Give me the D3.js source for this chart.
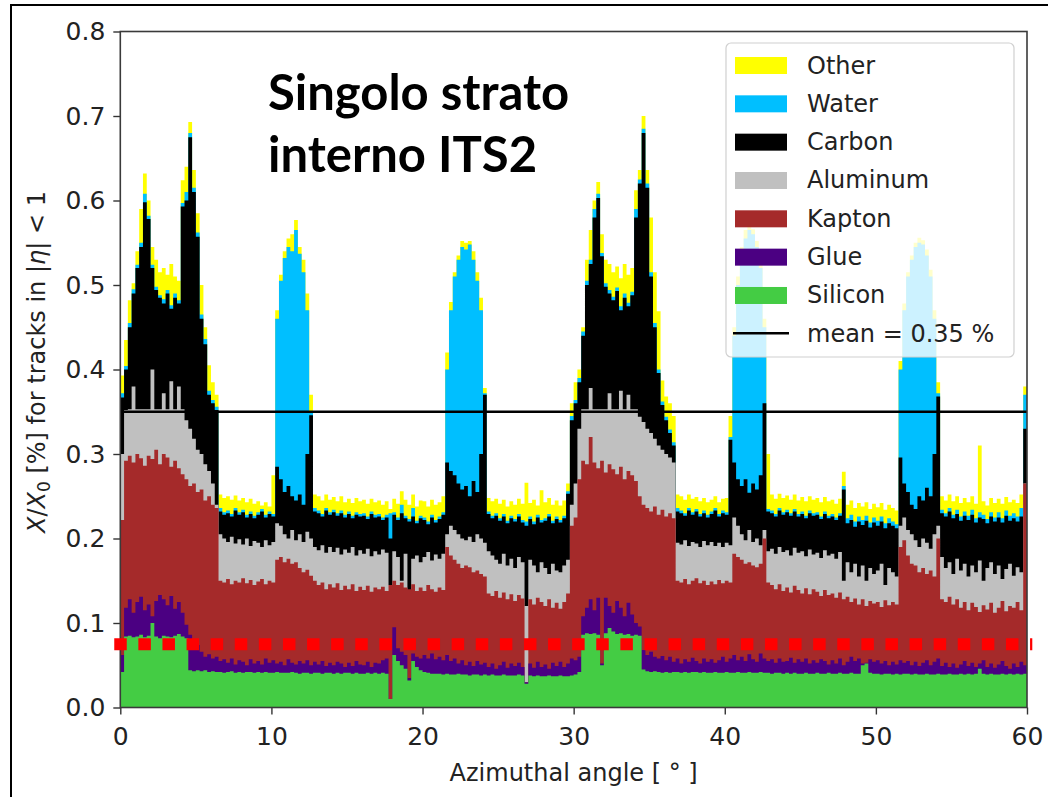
<!DOCTYPE html>
<html>
<head>
<meta charset="utf-8">
<script src="https://cdn.jsdelivr.net/npm/d3@7"></script>
<style>
body { margin: 0; background: #fff; }
</style>
</head>
<body>
<div id="my_dataviz"></div>
<script>
// bins of 0.25 degrees from 0 to 60, stacked upper edge of every material (X/X0 in %)
var binWidth = 0.25;

var siliconTop = [
    0.042,0.084,0.085,0.083, 0.084,0.086,0.083,0.085,
    0.100,0.084,0.082,0.085, 0.084,0.083,0.085,0.087,
    0.084,0.082,0.044,0.043, 0.044,0.043,0.044,0.042,
    0.043,0.042,0.042,0.041, 0.042,0.043,0.041,0.042,
    0.041,0.042,0.042,0.041, 0.042,0.041,0.042,0.041,
    0.041,0.042,0.041,0.041, 0.041,0.042,0.041,0.040,
    0.041,0.041,0.040,0.041, 0.041,0.040,0.041,0.041,
    0.040,0.041,0.040,0.041, 0.041,0.040,0.041,0.040,
    0.040,0.041,0.040,0.041, 0.040,0.041,0.040,0.010,
    0.062,0.055,0.050,0.046, 0.032,0.055,0.048,0.044,
    0.042,0.041,0.040,0.040, 0.040,0.039,0.040,0.039,
    0.039,0.040,0.039,0.039, 0.038,0.039,0.039,0.038,
    0.039,0.038,0.039,0.038, 0.038,0.039,0.038,0.038,
    0.038,0.039,0.038,0.028, 0.038,0.037,0.038,0.037,
    0.037,0.038,0.037,0.037, 0.038,0.037,0.037,0.038,
    0.039,0.042,0.086,0.088, 0.087,0.088,0.086,0.050,
    0.088,0.094,0.090,0.087, 0.088,0.086,0.087,0.085,
    0.086,0.085,0.045,0.043, 0.042,0.043,0.042,0.041,
    0.042,0.041,0.042,0.042, 0.041,0.042,0.041,0.042,
    0.042,0.041,0.042,0.041, 0.041,0.042,0.041,0.041,
    0.042,0.041,0.041,0.042, 0.041,0.041,0.042,0.041,
    0.041,0.042,0.041,0.041, 0.040,0.041,0.041,0.040,
    0.041,0.040,0.041,0.040, 0.040,0.041,0.040,0.040,
    0.041,0.040,0.040,0.041, 0.040,0.040,0.041,0.040,
    0.040,0.041,0.040,0.040, 0.050,0.052,0.041,0.040,
    0.040,0.039,0.040,0.040, 0.039,0.040,0.039,0.040,
    0.040,0.039,0.040,0.039, 0.039,0.040,0.039,0.039,
    0.040,0.039,0.039,0.040, 0.039,0.039,0.040,0.039,
    0.040,0.039,0.040,0.046, 0.040,0.039,0.040,0.039,
    0.039,0.040,0.039,0.040, 0.039,0.040,0.039,0.040
];

var glueTop = [
    0.062,0.118,0.128,0.112, 0.125,0.131,0.115,0.122,
    0.108,0.126,0.133,0.128, 0.121,0.132,0.117,0.125,
    0.112,0.098,0.086,0.080, 0.074,0.066,0.060,0.063,
    0.058,0.060,0.055,0.057, 0.053,0.058,0.051,0.056,
    0.054,0.050,0.057,0.052, 0.055,0.051,0.058,0.053,
    0.056,0.052,0.054,0.050, 0.057,0.053,0.051,0.055,
    0.052,0.056,0.050,0.054, 0.051,0.055,0.049,0.053,
    0.050,0.054,0.052,0.048, 0.053,0.049,0.055,0.051,
    0.050,0.054,0.048,0.053, 0.052,0.056,0.058,0.010,
    0.095,0.070,0.066,0.062, 0.035,0.064,0.060,0.058,
    0.062,0.058,0.064,0.057, 0.060,0.056,0.062,0.055,
    0.058,0.052,0.056,0.050, 0.054,0.049,0.055,0.051,
    0.053,0.048,0.052,0.046, 0.050,0.054,0.047,0.052,
    0.049,0.053,0.048,0.030, 0.052,0.047,0.054,0.048,
    0.051,0.046,0.053,0.049, 0.054,0.048,0.052,0.058,
    0.056,0.060,0.108,0.118, 0.128,0.115,0.130,0.052,
    0.130,0.120,0.112,0.126, 0.118,0.108,0.124,0.110,
    0.100,0.096,0.068,0.062, 0.066,0.060,0.058,0.061,
    0.056,0.060,0.054,0.058, 0.052,0.057,0.054,0.059,
    0.055,0.052,0.058,0.054, 0.057,0.053,0.056,0.060,
    0.054,0.058,0.062,0.056, 0.060,0.055,0.063,0.057,
    0.054,0.064,0.058,0.055, 0.057,0.053,0.058,0.054,
    0.055,0.059,0.053,0.057, 0.054,0.058,0.052,0.056,
    0.053,0.057,0.055,0.051, 0.056,0.052,0.058,0.050,
    0.054,0.060,0.055,0.058, 0.052,0.053,0.057,0.054,
    0.056,0.052,0.055,0.050, 0.054,0.051,0.056,0.053,
    0.055,0.050,0.054,0.049, 0.053,0.056,0.050,0.054,
    0.058,0.049,0.053,0.048, 0.052,0.047,0.051,0.055,
    0.049,0.053,0.048,0.052, 0.056,0.048,0.052,0.047,
    0.051,0.055,0.049,0.046, 0.052,0.048,0.054,0.050
];

var kaptonTop = [
    0.222,0.292,0.298,0.290, 0.300,0.295,0.286,0.298,
    0.294,0.305,0.288,0.300, 0.296,0.285,0.292,0.283,
    0.276,0.270,0.262,0.265, 0.255,0.258,0.245,0.250,
    0.240,0.236,0.150,0.148, 0.152,0.146,0.150,0.148,
    0.153,0.147,0.151,0.145, 0.149,0.152,0.146,0.150,
    0.148,0.175,0.178,0.172, 0.176,0.170,0.172,0.165,
    0.160,0.163,0.156,0.150, 0.145,0.148,0.140,0.146,
    0.142,0.147,0.139,0.144, 0.140,0.146,0.138,0.143,
    0.139,0.144,0.137,0.142, 0.140,0.143,0.138,0.145,
    0.150,0.145,0.148,0.142, 0.140,0.146,0.138,0.142,
    0.138,0.145,0.140,0.137, 0.142,0.139,0.190,0.180,
    0.175,0.170,0.165,0.168, 0.166,0.160,0.162,0.158,
    0.155,0.135,0.132,0.138, 0.130,0.136,0.128,0.134,
    0.126,0.133,0.129,0.030, 0.128,0.122,0.130,0.125,
    0.120,0.128,0.118,0.124, 0.117,0.125,0.135,0.215,
    0.225,0.270,0.292,0.288, 0.320,0.290,0.283,0.292,
    0.278,0.288,0.282,0.276, 0.285,0.270,0.280,0.275,
    0.268,0.250,0.240,0.236, 0.232,0.238,0.228,0.234,
    0.226,0.230,0.224,0.150, 0.148,0.152,0.146,0.150,
    0.153,0.147,0.150,0.145, 0.149,0.146,0.151,0.147,
    0.150,0.148,0.182,0.178, 0.175,0.170,0.172,0.168,
    0.166,0.170,0.200,0.148, 0.145,0.140,0.146,0.138,
    0.142,0.136,0.144,0.139, 0.135,0.141,0.134,0.140,
    0.137,0.132,0.139,0.133, 0.135,0.130,0.136,0.128,
    0.131,0.125,0.129,0.122, 0.128,0.120,0.126,0.123,
    0.125,0.119,0.127,0.121, 0.125,0.122,0.190,0.198,
    0.180,0.170,0.168,0.160, 0.165,0.158,0.162,0.155,
    0.200,0.128,0.125,0.131, 0.122,0.128,0.118,0.125,
    0.115,0.124,0.119,0.113, 0.121,0.116,0.124,0.112,
    0.118,0.126,0.114,0.120, 0.118,0.125,0.115,0.265
];

var aluminumTop = [
    0.300,0.352,0.353,0.380, 0.353,0.353,0.353,0.353,
    0.400,0.353,0.353,0.372, 0.353,0.386,0.353,0.380,
    0.353,0.340,0.330,0.318, 0.305,0.300,0.288,0.280,
    0.265,0.240,0.205,0.200, 0.196,0.202,0.194,0.199,
    0.193,0.200,0.191,0.197, 0.195,0.190,0.198,0.192,
    0.196,0.218,0.215,0.205, 0.200,0.210,0.198,0.205,
    0.196,0.208,0.200,0.190, 0.186,0.192,0.183,0.190,
    0.184,0.189,0.181,0.187, 0.183,0.190,0.180,0.186,
    0.182,0.188,0.179,0.185, 0.181,0.187,0.183,0.145,
    0.185,0.178,0.150,0.182, 0.132,0.176,0.180,0.172,
    0.178,0.184,0.174,0.181, 0.176,0.182,0.205,0.215,
    0.210,0.205,0.200,0.198, 0.202,0.196,0.205,0.200,
    0.195,0.185,0.180,0.175, 0.170,0.182,0.168,0.176,
    0.165,0.178,0.172,0.120, 0.175,0.168,0.160,0.172,
    0.165,0.158,0.170,0.162, 0.160,0.168,0.175,0.240,
    0.265,0.330,0.353,0.353, 0.378,0.353,0.353,0.353,
    0.353,0.372,0.353,0.353, 0.375,0.353,0.370,0.353,
    0.353,0.344,0.338,0.330, 0.325,0.318,0.310,0.305,
    0.300,0.296,0.290,0.195, 0.193,0.198,0.191,0.196,
    0.194,0.190,0.197,0.192, 0.196,0.191,0.195,0.190,
    0.195,0.192,0.225,0.215, 0.205,0.198,0.210,0.196,
    0.200,0.192,0.210,0.185, 0.188,0.182,0.190,0.184,
    0.186,0.180,0.189,0.183, 0.185,0.179,0.187,0.181,
    0.183,0.177,0.186,0.180, 0.182,0.176,0.184,0.150,
    0.172,0.160,0.170,0.155, 0.168,0.150,0.165,0.158,
    0.162,0.170,0.145,0.165, 0.160,0.155,0.215,0.225,
    0.210,0.205,0.198,0.190, 0.200,0.195,0.188,0.205,
    0.215,0.178,0.165,0.172, 0.158,0.176,0.162,0.170,
    0.155,0.168,0.160,0.174, 0.150,0.165,0.172,0.158,
    0.168,0.152,0.164,0.170, 0.156,0.166,0.160,0.265
];

var carbonTop = [
    0.367,0.400,0.450,0.490, 0.520,0.545,0.598,0.578,
    0.520,0.494,0.485,0.478, 0.490,0.472,0.485,0.478,
    0.593,0.600,0.675,0.610, 0.557,0.460,0.430,0.370,
    0.360,0.352,0.232,0.228, 0.230,0.226,0.233,0.228,
    0.231,0.225,0.229,0.224, 0.228,0.232,0.225,0.229,
    0.226,0.285,0.270,0.255, 0.262,0.250,0.245,0.252,
    0.240,0.300,0.346,0.232, 0.230,0.226,0.233,0.228,
    0.231,0.227,0.230,0.225, 0.229,0.224,0.228,0.226,
    0.227,0.223,0.229,0.225, 0.226,0.222,0.225,0.200,
    0.228,0.222,0.230,0.224, 0.220,0.226,0.218,0.224,
    0.222,0.217,0.225,0.219, 0.223,0.228,0.290,0.280,
    0.275,0.265,0.258,0.262, 0.250,0.268,0.255,0.300,
    0.370,0.229,0.224,0.227, 0.221,0.226,0.218,0.224,
    0.220,0.226,0.219,0.215, 0.223,0.217,0.225,0.219,
    0.221,0.226,0.218,0.223, 0.219,0.224,0.253,0.340,
    0.360,0.385,0.440,0.500, 0.525,0.580,0.603,0.534,
    0.498,0.490,0.482,0.493, 0.470,0.485,0.475,0.488,
    0.580,0.620,0.680,0.615, 0.510,0.450,0.396,0.358,
    0.340,0.325,0.310,0.232, 0.230,0.227,0.233,0.228,
    0.232,0.226,0.230,0.225, 0.229,0.233,0.226,0.230,
    0.228,0.317,0.290,0.270, 0.262,0.270,0.254,0.265,
    0.258,0.275,0.360,0.232, 0.230,0.226,0.233,0.228,
    0.231,0.227,0.232,0.226, 0.229,0.224,0.230,0.227,
    0.228,0.223,0.229,0.224, 0.226,0.222,0.227,0.258,
    0.218,0.222,0.214,0.220, 0.216,0.221,0.213,0.219,
    0.215,0.220,0.212,0.218, 0.215,0.212,0.296,0.265,
    0.255,0.240,0.235,0.250, 0.245,0.260,0.250,0.300,
    0.368,0.230,0.226,0.232, 0.224,0.229,0.221,0.227,
    0.222,0.228,0.219,0.225, 0.223,0.218,0.226,0.220,
    0.225,0.219,0.227,0.221, 0.224,0.220,0.226,0.330
];

var waterTop = [
    0.372,0.404,0.455,0.495, 0.524,0.550,0.608,0.582,
    0.524,0.498,0.488,0.483, 0.494,0.476,0.490,0.482,
    0.597,0.610,0.680,0.615, 0.562,0.465,0.436,0.375,
    0.364,0.356,0.236,0.231, 0.233,0.229,0.236,0.231,
    0.234,0.228,0.232,0.227, 0.231,0.235,0.228,0.232,
    0.229,0.460,0.505,0.532, 0.545,0.540,0.565,0.537,
    0.515,0.470,0.350,0.236, 0.233,0.229,0.236,0.231,
    0.234,0.230,0.233,0.228, 0.232,0.227,0.231,0.229,
    0.230,0.226,0.232,0.228, 0.229,0.225,0.228,0.230,
    0.231,0.225,0.240,0.227, 0.223,0.236,0.221,0.227,
    0.225,0.220,0.228,0.222, 0.226,0.231,0.400,0.470,
    0.510,0.530,0.545,0.542, 0.548,0.530,0.505,0.470,
    0.372,0.232,0.227,0.230, 0.224,0.229,0.221,0.227,
    0.223,0.229,0.222,0.220, 0.226,0.220,0.228,0.222,
    0.224,0.229,0.221,0.226, 0.222,0.227,0.256,0.345,
    0.364,0.390,0.445,0.505, 0.530,0.590,0.608,0.538,
    0.502,0.494,0.486,0.497, 0.475,0.490,0.479,0.492,
    0.590,0.625,0.685,0.620, 0.515,0.455,0.400,0.362,
    0.344,0.329,0.314,0.236, 0.233,0.230,0.236,0.231,
    0.235,0.229,0.233,0.228, 0.232,0.236,0.229,0.233,
    0.231,0.320,0.440,0.500, 0.535,0.555,0.565,0.560,
    0.545,0.520,0.450,0.235, 0.233,0.229,0.236,0.231,
    0.234,0.230,0.235,0.229, 0.232,0.227,0.233,0.230,
    0.231,0.226,0.232,0.227, 0.229,0.225,0.230,0.262,
    0.224,0.228,0.220,0.226, 0.222,0.227,0.219,0.225,
    0.221,0.226,0.218,0.224, 0.220,0.217,0.400,0.470,
    0.510,0.530,0.545,0.550, 0.548,0.535,0.510,0.460,
    0.372,0.234,0.230,0.236, 0.228,0.234,0.226,0.232,
    0.227,0.234,0.224,0.231, 0.228,0.223,0.231,0.225,
    0.231,0.224,0.233,0.227, 0.230,0.226,0.236,0.370
];

var otherTop = [
    0.393,0.435,0.482,0.502, 0.540,0.590,0.632,0.600,
    0.545,0.530,0.515,0.520, 0.512,0.525,0.510,0.505,
    0.624,0.640,0.693,0.636, 0.585,0.500,0.450,0.405,
    0.385,0.370,0.252,0.248, 0.250,0.246,0.251,0.245,
    0.248,0.243,0.247,0.241, 0.244,0.239,0.243,0.238,
    0.275,0.470,0.512,0.540, 0.555,0.560,0.577,0.545,
    0.530,0.490,0.370,0.252, 0.250,0.245,0.252,0.246,
    0.249,0.244,0.250,0.243, 0.247,0.242,0.248,0.244,
    0.246,0.241,0.247,0.243, 0.245,0.240,0.244,0.235,
    0.247,0.241,0.256,0.246, 0.240,0.252,0.238,0.245,
    0.244,0.238,0.246,0.240, 0.243,0.250,0.420,0.480,
    0.515,0.535,0.552,0.550, 0.552,0.540,0.515,0.485,
    0.378,0.248,0.244,0.247, 0.241,0.246,0.238,0.244,
    0.240,0.247,0.241,0.266, 0.242,0.246,0.239,0.257,
    0.243,0.248,0.240,0.245, 0.239,0.245,0.265,0.360,
    0.385,0.400,0.450,0.530, 0.565,0.600,0.622,0.560,
    0.530,0.525,0.515,0.522, 0.508,0.525,0.512,0.520,
    0.612,0.636,0.700,0.636, 0.580,0.515,0.469,0.387,
    0.368,0.360,0.345,0.252, 0.250,0.246,0.252,0.247,
    0.249,0.244,0.248,0.243, 0.246,0.250,0.243,0.247,
    0.248,0.345,0.450,0.510, 0.545,0.565,0.572,0.566,
    0.552,0.528,0.460,0.300, 0.252,0.247,0.253,0.248,
    0.251,0.246,0.252,0.245, 0.249,0.244,0.250,0.246,
    0.248,0.243,0.249,0.244, 0.246,0.241,0.247,0.279,
    0.240,0.245,0.236,0.242, 0.238,0.243,0.235,0.241,
    0.237,0.242,0.234,0.240, 0.236,0.233,0.410,0.478,
    0.515,0.535,0.550,0.556, 0.553,0.542,0.518,0.470,
    0.385,0.250,0.245,0.252, 0.244,0.250,0.242,0.248,
    0.243,0.250,0.241,0.310, 0.244,0.239,0.248,0.242,
    0.247,0.241,0.249,0.243, 0.246,0.242,0.252,0.380
];

var materials = ["Other", "Water", "Carbon", "Aluminum", "Kapton", "Glue", "Silicon"];
var materialColors = ["#ffff00", "#00bfff", "#000000", "#c0c0c0", "#a52a2a", "#4b0082", "#44cc44"];
var materialTops = [otherTop, waterTop, carbonTop, aluminumTop, kaptonTop, glueTop, siliconTop];

var meanValue = 0.35;
var meanLabel = "mean = 0.35 %";
var redLevel = 0.075;   // dotted red marker drawn on the slide
var xTicks = [0, 10, 20, 30, 40, 50, 60];
var yTicks = [0, 0.1, 0.2, 0.3, 0.4, 0.5, 0.6, 0.7, 0.8];
var noteLines = ["Singolo strato", "interno ITS2"];

// set the dimensions and margins of the graph
var margin = {
        top: 31.5,
        right: 21,
        bottom: 89.5,
        left: 120.3
    },
    width = 1048 - margin.left - margin.right,
    height = 797 - margin.top - margin.bottom;

var root = d3.select("#my_dataviz")
    .append("svg")
    .attr("width", 1048)
    .attr("height", 797)
    .style("display", "block");

// slide frame around the picture
root.append("path")
    .attr("d", "M11,797V5H1048")
    .attr("fill", "none")
    .attr("stroke", "#000")
    .attr("stroke-width", 2);

var svg = root.append("g")
    .attr("transform", "translate(" + margin.left + "," + margin.top + ")");

var x = d3.scaleLinear()
    .domain([0, 60])
    .range([0, width]);

var y = d3.scaleLinear()
    .domain([0, 0.8])
    .range([height, 0]);

// stacked step histograms, drawn from the top material down
var area = d3.area()
    .curve(d3.curveStepAfter)
    .x(function(d) { return x(d[0]); })
    .y0(y(0))
    .y1(function(d) { return y(d[1]); });

materialTops.forEach(function(tops, k) {
    var pts = d3.range(tops.length + 1).map(function(i) {
        return [i * binWidth, tops[Math.min(i, tops.length - 1)]];
    });
    svg.append("path")
        .datum(pts)
        .attr("fill", materialColors[k])
        .attr("d", area);
});

// mean line
svg.append("line")
    .attr("x1", x(0))
    .attr("x2", x(60))
    .attr("y1", y(meanValue))
    .attr("y2", y(meanValue))
    .attr("stroke", "#000")
    .attr("stroke-width", 2.5);

// axes
var xAxis = svg.append("g")
    .attr("transform", "translate(0," + height + ")")
    .call(d3.axisBottom(x).tickValues(xTicks).tickSize(7).tickSizeOuter(0));
xAxis.select(".domain").remove();
xAxis.selectAll("text")
    .attr("y", 20)
    .attr("dy", "0.71em");

var yAxis = svg.append("g")
    .call(d3.axisLeft(y).tickValues(yTicks).tickFormat(d3.format(".1f")).tickSize(7).tickPadding(8).tickSizeOuter(0));
yAxis.select(".domain").remove();

svg.selectAll(".tick line").attr("stroke", "#333").attr("stroke-width", 1.4);
svg.selectAll(".tick text")
    .attr("fill", "#222")
    .style("font-family", "DejaVu Sans")
    .style("font-size", "25px");

svg.append("rect")
    .attr("width", width)
    .attr("height", height)
    .attr("fill", "none")
    .attr("stroke", "#3a3a3a")
    .attr("stroke-width", 1.6);

// axis labels
svg.append("text")
    .attr("x", x(30))
    .attr("y", height + 73.5)
    .attr("text-anchor", "middle")
    .attr("fill", "#222")
    .style("font-family", "DejaVu Sans")
    .style("font-size", "24px")
    .text("Azimuthal angle [ ° ]");

var yl = svg.append("text")
    .attr("transform", "translate(" + (45 - margin.left) + "," + (362 - margin.top) + ") rotate(-90)")
    .attr("text-anchor", "middle")
    .attr("fill", "#222")
    .style("font-family", "DejaVu Sans")
    .style("font-size", "24px");
yl.append("tspan").style("font-style", "italic").text("X");
yl.append("tspan").text("/");
yl.append("tspan").style("font-style", "italic").text("X");
yl.append("tspan").attr("dy", 5).style("font-size", "17px").text("0");
yl.append("tspan").attr("dy", -5).text(" [%] for tracks in |");
yl.append("tspan").style("font-style", "italic").text("η");
yl.append("tspan").text("| < 1");

// legend
var legend = root.append("g").attr("transform", "translate(726,43)");
legend.append("rect")
    .attr("width", 288)
    .attr("height", 314)
    .attr("rx", 5)
    .attr("fill", "#fff")
    .attr("fill-opacity", 0.8)
    .attr("stroke", "#d0d0d0")
    .attr("stroke-width", 1.2);

var rowH = 38.33;
materials.forEach(function(m, k) {
    legend.append("rect")
        .attr("x", 9)
        .attr("y", 14 + k * rowH)
        .attr("width", 52)
        .attr("height", 17)
        .attr("fill", materialColors[k]);
    legend.append("text")
        .attr("x", 81)
        .attr("y", 30.5 + k * rowH)
        .attr("fill", "#222")
        .style("font-family", "DejaVu Sans")
        .style("font-size", "24px")
        .text(m);
});
legend.append("line")
    .attr("x1", 7)
    .attr("x2", 63)
    .attr("y1", 22 + 7 * rowH)
    .attr("y2", 22 + 7 * rowH)
    .attr("stroke", "#000")
    .attr("stroke-width", 2.5);
legend.append("text")
    .attr("x", 81)
    .attr("y", 30.5 + 7 * rowH)
    .attr("fill", "#222")
    .style("font-family", "DejaVu Sans")
    .style("font-size", "24px")
    .text(meanLabel);

// red dotted marker
svg.append("line")
    .attr("x1", x(-0.4))
    .attr("x2", x(60.35))
    .attr("y1", y(redLevel))
    .attr("y2", y(redLevel))
    .attr("stroke", "#ff0000")
    .attr("stroke-width", 12)
    .attr("stroke-dasharray", "12.5,11.6");

// slide annotation
noteLines.forEach(function(t, i) {
    root.append("text")
        .attr("x", 268)
        .attr("y", 110 + i * 62)
        .attr("fill", "#000")
        .style("font-family", "Lato")
        .style("font-weight", "bold")
        .style("font-size", "49px")
        .text(t);
});
</script>
</body>
</html>
